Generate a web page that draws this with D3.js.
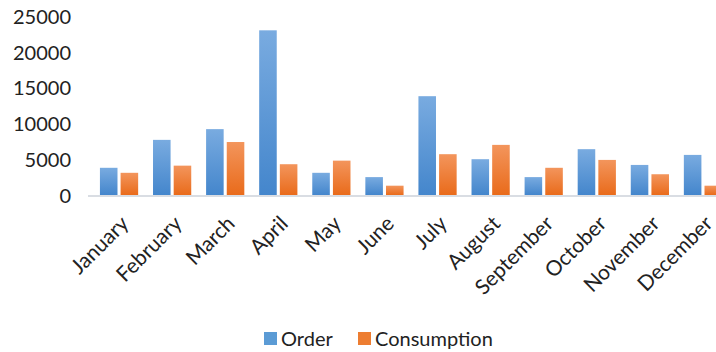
<!DOCTYPE html>
<html><head><meta charset="utf-8">
<script src="https://cdn.jsdelivr.net/npm/d3@7"></script>
<style>body{margin:0;background:#fff}svg{display:block}text{font-family:Lato,"Open Sans",sans-serif;fill:#222}</style>
</head><body><svg id="c" width="716" height="352"></svg>
<script>
const months = ["January","February","March","April","May","June","July","August","September","October","November","December"];
const seriesNames = ["Order","Consumption"];
const orderValues = [3800,7700,9200,23000,3100,2500,13800,5000,2500,6400,4200,5600];
const consumptionValues = [3100,4100,7400,4300,4800,1300,5700,7000,3800,4900,2900,1300];
const yTicks = [0,5000,10000,15000,20000,25000];

const svg = d3.select("#c");
const defs = svg.append("defs");
const grads = [["gBlue","#79abe0","#4486cc"],["gOrange","#f3955c","#e96b1b"]];
grads.forEach(([id,top,bot])=>{
  const g = defs.append("linearGradient").attr("id",id).attr("x1",0).attr("y1",0).attr("x2",0).attr("y2",1);
  g.append("stop").attr("offset","0%").attr("stop-color",top);
  g.append("stop").attr("offset","100%").attr("stop-color",bot);
});
const fills = {"Order":"url(#gBlue)","Consumption":"url(#gOrange)"};
const legendColors = {"Order":"#5b9bd5","Consumption":"#ed7d31"};

const y = d3.scaleLinear().domain([0,25000]).range([195,16]);
const x0 = d3.scaleBand().domain(months).range([92.5,729.5]).paddingInner(0.28).paddingOuter(0.14);
const x1 = d3.scaleBand().domain(seriesNames).range([0,x0.bandwidth()]).paddingInner(0.15);

const data = months.map((m,i)=>({month:m, vals:[{k:"Order",v:orderValues[i]},{k:"Consumption",v:consumptionValues[i]}]}));

// axis line
svg.append("line").attr("x1",88).attr("x2",716).attr("y1",196).attr("y2",196)
  .attr("stroke","#d9dde3").attr("stroke-width",2);

// bars
const groups = svg.selectAll("g.grp").data(data).join("g").attr("class","grp")
  .attr("transform",d=>`translate(${x0(d.month)},0)`);
groups.selectAll("rect").data(d=>d.vals).join("rect")
  .attr("x",d=>x1(d.k)).attr("width",x1.bandwidth())
  .attr("y",d=>y(d.v)).attr("height",d=>y(0)-y(d.v))
  .attr("fill",d=>fills[d.k]);

// y axis labels
const yAxis = d3.axisLeft(y).tickValues(yTicks).tickSize(0).tickPadding(0).tickFormat(d3.format("d"));
const ya = svg.append("g").attr("transform","translate(71,0)").call(yAxis);
ya.select(".domain").remove();
ya.selectAll("text").attr("font-size",20).attr("font-family","Lato").attr("fill","#222").attr("dy","0.36em");

// x labels
const xAxis = d3.axisBottom(x0).tickSize(0).tickPadding(0);
const xa = svg.append("g").attr("transform","translate(0,216)").call(xAxis);
xa.select(".domain").remove();
xa.selectAll("text").attr("font-size",21).attr("font-family","Lato").attr("fill","#222")
  .attr("text-anchor","end").attr("dy","0.6em").attr("dx","0")
  .attr("transform","translate(2,0) rotate(-45)");

// legend
const legendPos = [{k:"Order",x:264},{k:"Consumption",x:358}];
const lg = svg.append("g");
legendPos.forEach(p=>{
  lg.append("rect").attr("x",p.x).attr("y",332).attr("width",13).attr("height",13).attr("fill",legendColors[p.k]);
  lg.append("text").attr("x",p.x+17).attr("y",345.5).attr("font-size",20).text(p.k);
});
</script></body></html>
